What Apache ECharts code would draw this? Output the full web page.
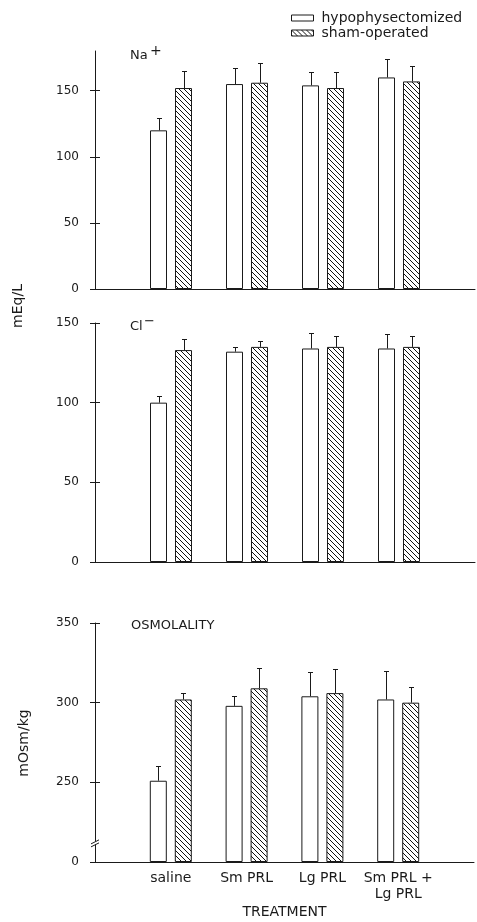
<!DOCTYPE html>
<html>
<head>
<meta charset="utf-8">
<script src="https://cdn.jsdelivr.net/npm/echarts@6/dist/echarts.min.js"></script>
<style>
html,body{margin:0;padding:0;background:#fff;}
#chart{width:477px;height:922px;}
</style>
</head>
<body>
<div id="chart"></div>
<script>
// ---------------- data ----------------
const categories = ['saline', 'Sm PRL', 'Lg PRL', 'Sm PRL +\nLg PRL'];
const seriesNames = ['hypophysectomized', 'sham-operated'];

const naHypo = [120, 155, 154, 160];
const naHypoErr = [9, 12, 10, 14];
const naSham = [152, 156, 152, 157];
const naShamErr = [13, 15, 12, 12];

const clHypo = [100, 132, 134, 134];
const clHypoErr = [4, 3, 10, 9];
const clSham = [133, 135, 135, 135];
const clShamErr = [7, 4, 7, 7];

const osmHypo = [251, 298, 304, 302];
const osmHypoErr = [9, 6, 15, 18];
const osmSham = [302, 309, 306, 300];
const osmShamErr = [4, 13, 15, 10];

const naTicks = [0, 50, 100, 150];
const clTicks = [0, 50, 100, 150];
const osmTickLabels = [0, 250, 300, 350];
const OSM_BREAK = 200;      // values below this (except 0) are cut out of the axis
const OSM_BREAK_MARK = 12;  // where the break symbol sits (in axis units)

// ---------------- helpers ----------------
const FONT = 'DejaVu Sans';
const INK = '#1a1a1a';
const BAR_W = 17;
const BAR_GAP = 8;
const OFFSET = (BAR_W + BAR_GAP) / 2;
const CAP = 2.5;

function hatchPattern() {
  const n = 5;
  const c = document.createElement('canvas');
  c.width = n; c.height = n;
  const g = c.getContext('2d');
  g.fillStyle = '#fff';
  g.fillRect(0, 0, n, n);
  g.fillStyle = '#111';
  for (let i = 0; i < n; i++) g.fillRect(i, i, 1, 1);
  return { image: c, repeat: 'repeat' };
}
const HATCH = hatchPattern();

const xCats = [''].concat(categories, ['']);
function pad(arr, shift) { return ['-'].concat(arr.map(v => v - (shift || 0)), ['-']); }

const grids = [
  { left: 95, right: 2, top: 51, height: 238 },
  { left: 95, right: 2, top: 323, height: 239 },
  { left: 95, right: 2, top: 623, height: 239 }
];

function xAxis(gi, showLabels) {
  return {
    type: 'category', gridIndex: gi, data: xCats, boundaryGap: false,
    axisLine: { lineStyle: { color: INK, width: 1 } },
    axisTick: { show: false },
    axisLabel: {
      show: showLabels, interval: 0, fontFamily: FONT, fontSize: 14, color: INK,
      lineHeight: 16, margin: 8, align: 'center'
    },
    name: showLabels ? 'TREATMENT' : '',
    nameLocation: 'middle', nameGap: 43,
    nameTextStyle: { fontFamily: FONT, fontSize: 14, color: INK }
  };
}

function yAxisMain(gi, max, tickVals, formatter) {
  return {
    type: 'value', gridIndex: gi, min: 0, max: max,
    axisLine: { show: true, lineStyle: { color: INK, width: 1 } },
    axisTick: { show: true, length: 5, customValues: tickVals, lineStyle: { color: INK } },
    axisLabel: {
      customValues: tickVals, fontFamily: FONT, fontSize: 12, color: INK, margin: 16,
      formatter: formatter || (v => String(v))
    },
    splitLine: { show: false }
  };
}
function yAxisInner(gi, max, tickVals) {
  return {
    type: 'value', gridIndex: gi, min: 0, max: max, position: 'left',
    axisLine: { show: false },
    axisTick: { show: true, inside: true, length: 5, customValues: tickVals, lineStyle: { color: INK } },
    axisLabel: { show: false },
    splitLine: { show: false }
  };
}

function bars(gi, hypo, sham, shift) {
  const common = {
    type: 'bar', xAxisIndex: gi, yAxisIndex: gi * 2,
    barWidth: BAR_W, barGap: (BAR_GAP / BAR_W * 100) + '%'
  };
  return [
    Object.assign({}, common, {
      name: seriesNames[0], data: pad(hypo, shift),
      itemStyle: { color: '#fff', borderColor: INK, borderWidth: 1 }
    }),
    Object.assign({}, common, {
      name: seriesNames[1], data: pad(sham, shift),
      itemStyle: { color: HATCH, borderColor: INK, borderWidth: 1 }
    })
  ];
}

function errorBars(gi, hypo, hypoErr, sham, shamErr, shift) {
  const data = [];
  hypo.forEach((v, i) => data.push([i + 1, v - (shift || 0), hypoErr[i], -1]));
  sham.forEach((v, i) => data.push([i + 1, v - (shift || 0), shamErr[i], 1]));
  return {
    type: 'custom', xAxisIndex: gi, yAxisIndex: gi * 2, z: 5, silent: true,
    data: data,
    renderItem: function (params, api) {
      const x = api.value(0), v = api.value(1), e = api.value(2), side = api.value(3);
      const p0 = api.coord([x, v]);
      const p1 = api.coord([x, v + e]);
      const cx = Math.round(p0[0] + side * OFFSET) + 0.5;
      const ty = Math.round(p1[1]) + 0.5;
      return {
        type: 'group',
        children: [
          { type: 'line', shape: { x1: cx, y1: p0[1], x2: cx, y2: ty }, style: { stroke: INK, lineWidth: 1 } },
          { type: 'line', shape: { x1: cx - CAP, y1: ty, x2: cx + CAP, y2: ty }, style: { stroke: INK, lineWidth: 1 } }
        ]
      };
    }
  };
}

const breakMark = {
  type: 'custom', xAxisIndex: 2, yAxisIndex: 4, z: 6, silent: true,
  data: [[0, OSM_BREAK_MARK]],
  renderItem: function (params, api) {
    const p = api.coord([api.value(0), api.value(1)]);
    const x = p[0], y = p[1];
    return {
      type: 'group',
      children: [
        { type: 'rect', shape: { x: x - 2, y: y - 1.5, width: 4, height: 3 }, style: { fill: '#fff' } },
        { type: 'line', shape: { x1: x - 4, y1: y + 1, x2: x + 4, y2: y - 3 }, style: { stroke: INK, lineWidth: 1 } },
        { type: 'line', shape: { x1: x - 4, y1: y + 4, x2: x + 4, y2: y } , style: { stroke: INK, lineWidth: 1 } }
      ]
    };
  }
};

const option = {
  animation: false,
  backgroundColor: '#fff',
  textStyle: { fontFamily: FONT },
  grid: grids,
  legend: {
    data: seriesNames,
    orient: 'vertical', left: 286, top: 6,
    itemWidth: 22, itemHeight: 6, itemGap: 1,
    icon: 'rect',
    itemStyle: { borderColor: INK, borderWidth: 1 },
    textStyle: { fontFamily: FONT, fontSize: 14, color: INK, padding: [0, 0, 0, 3] },
    selectedMode: false
  },
  xAxis: [xAxis(0, false), xAxis(1, false), xAxis(2, true)],
  yAxis: [
    yAxisMain(0, 180, naTicks), yAxisInner(0, 180, naTicks),
    yAxisMain(1, 150, clTicks), yAxisInner(1, 150, clTicks),
    yAxisMain(2, 150, osmTickLabels.map(v => v === 0 ? 0 : v - OSM_BREAK),
      v => (v === 0 ? '0' : String(v + OSM_BREAK))),
    yAxisInner(2, 150, osmTickLabels.map(v => v === 0 ? 0 : v - OSM_BREAK))
  ],
  graphic: [
    { type: 'text', left: 130, top: 49, style: { text: 'Na', font: '13px "DejaVu Sans"', fill: INK } },
    { type: 'text', left: 150, top: 44, style: { text: '+', font: '14px "DejaVu Sans"', fill: INK } },
    { type: 'text', left: 130, top: 320, style: { text: 'Cl', font: '13px "DejaVu Sans"', fill: INK } },
    { type: 'text', left: 144, top: 315, style: { text: '\u2212', font: '13px "DejaVu Sans"', fill: INK } },
    { type: 'text', left: 131, top: 619, style: { text: 'OSMOLALITY', font: '13px "DejaVu Sans"', fill: INK } },
    { type: 'text', x: 18, y: 306, rotation: Math.PI / 2,
      style: { text: 'mEq/L', font: '14px "DejaVu Sans"', fill: INK, align: 'center', verticalAlign: 'middle' } },
    { type: 'text', x: 24, y: 743, rotation: Math.PI / 2,
      style: { text: 'mOsm/kg', font: '14px "DejaVu Sans"', fill: INK, align: 'center', verticalAlign: 'middle' } }
  ],
  series: [].concat(
    bars(0, naHypo, naSham),
    bars(1, clHypo, clSham),
    bars(2, osmHypo, osmSham, OSM_BREAK),
    [errorBars(0, naHypo, naHypoErr, naSham, naShamErr),
     errorBars(1, clHypo, clHypoErr, clSham, clShamErr),
     errorBars(2, osmHypo, osmHypoErr, osmSham, osmShamErr, OSM_BREAK),
     breakMark]
  )
};

const chart = echarts.init(document.getElementById('chart'), null, { renderer: 'canvas' });
chart.setOption(option);
</script>
</body>
</html>
